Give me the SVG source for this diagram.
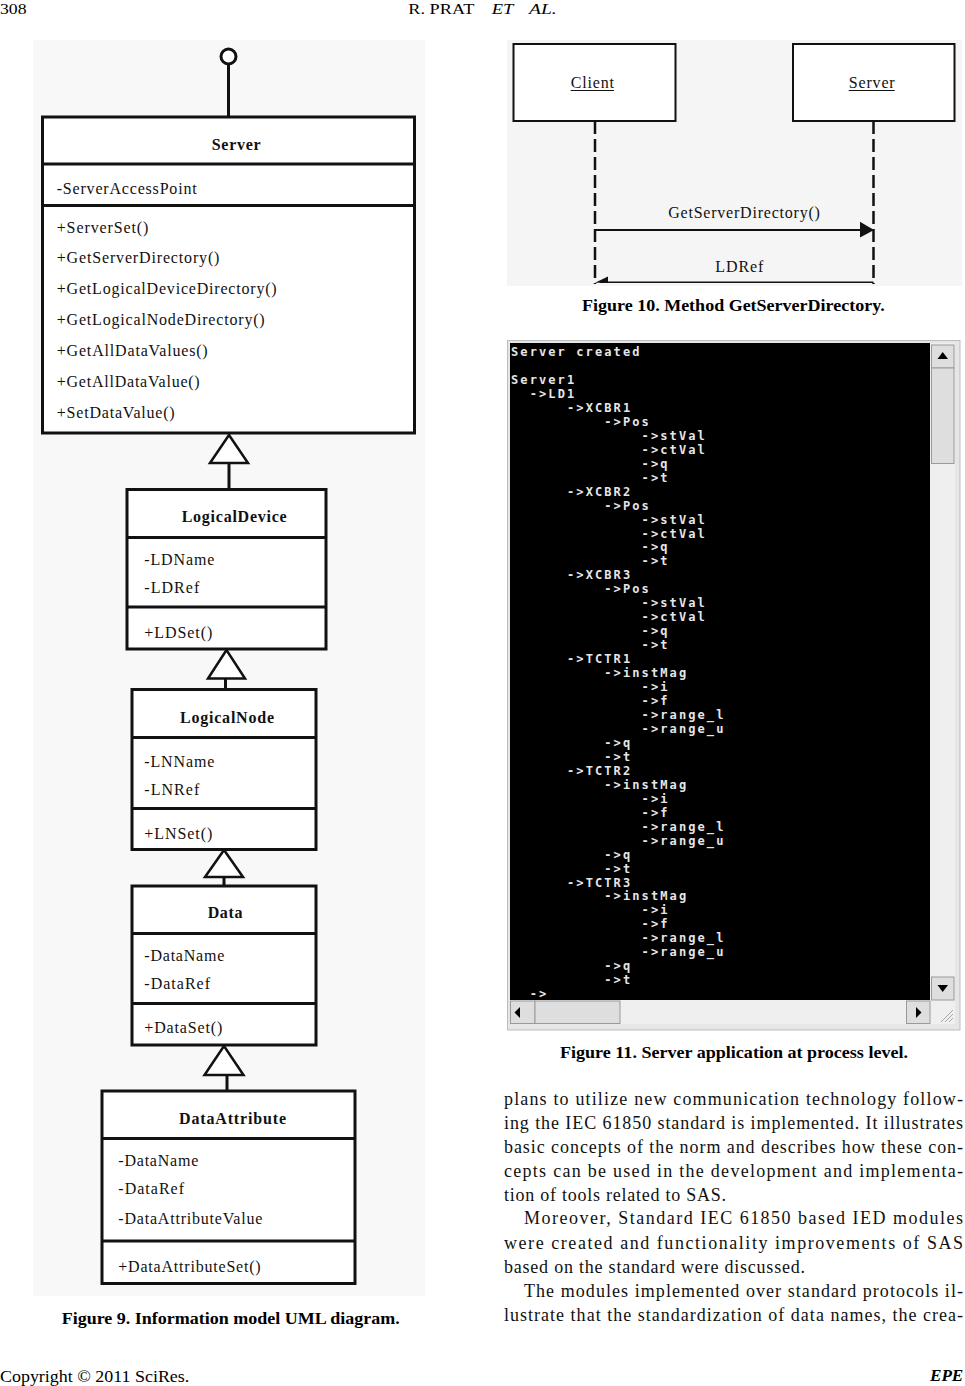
<svg xmlns="http://www.w3.org/2000/svg" width="965" height="1386" viewBox="0 0 965 1386">
<style>
.serif{font-family:"Liberation Serif","Times New Roman",serif;fill:#000}
.uml{font-family:"Liberation Serif","Times New Roman",serif;font-size:16px;fill:#111}
.umlt{font-family:"Liberation Serif","Times New Roman",serif;font-size:16px;font-weight:bold;fill:#111}
.box{fill:#fff;stroke:#111;stroke-width:3}
.sep{stroke:#111;stroke-width:3}
.gen{fill:#fff;stroke:#111;stroke-width:2.5;stroke-linejoin:miter}
.edge{stroke:#111;stroke-width:3;fill:none}
.cap{font-family:"Liberation Serif","Times New Roman",serif;font-size:17px;font-weight:bold;fill:#000}
.body{font-family:"Liberation Serif","Times New Roman",serif;font-size:18px;fill:#111}
.con{font-family:"DejaVu Sans Mono","Liberation Mono",monospace;font-size:12px;font-weight:bold;letter-spacing:2.1px;fill:#e6e6e6}
.sq{font-family:"Liberation Serif","Times New Roman",serif;font-size:16px;fill:#111}
.life{stroke:#111;stroke-width:2.5;stroke-dasharray:13 5}
.btn{fill:#dedede;stroke:#9a9a9a;stroke-width:1}
</style>
<rect width="965" height="1386" fill="#fff"/>

<!-- header -->
<text class="serif" x="0" y="13.5" font-size="15" textLength="26.5" lengthAdjust="spacingAndGlyphs">308</text>
<text class="serif" x="408.3" y="13.5" font-size="15" textLength="66" lengthAdjust="spacingAndGlyphs">R. PRAT</text>
<text class="serif" x="491.7" y="13.5" font-size="15" font-style="italic" textLength="21.6" lengthAdjust="spacingAndGlyphs">ET</text>
<text class="serif" x="529" y="13.5" font-size="15" font-style="italic" textLength="27.7" lengthAdjust="spacingAndGlyphs">AL.</text>

<!-- Figure 9 background -->
<rect x="33" y="40" width="392" height="1256" fill="#f8f8f8"/>

<!-- Figure 9 connectors -->
<g id="uml-connectors">
  <line class="edge" x1="228.5" y1="64" x2="228.5" y2="117"/>
  <circle cx="228.5" cy="56.5" r="7.5" fill="#fff" stroke="#111" stroke-width="3"/>
  <line class="edge" x1="229" y1="463" x2="229" y2="489"/>
  <polygon class="gen" points="229,435 210,463 248,463"/>
  <line class="edge" x1="225.5" y1="678.5" x2="225.5" y2="689.5"/>
  <polygon class="gen" points="226.5,650 208,678.5 245,678.5"/>
  <line class="edge" x1="224" y1="877" x2="224" y2="886"/>
  <polygon class="gen" points="224,850 205,877 243,877"/>
  <line class="edge" x1="227" y1="1075" x2="227" y2="1091"/>
  <polygon class="gen" points="224,1046 204.5,1075 243.5,1075"/>
</g>

<g id="server">
  <rect class="box" x="42.5" y="117" width="372" height="316"/>
  <line class="sep" x1="42.5" y1="164" x2="414.5" y2="164"/>
  <line class="sep" x1="42.5" y1="205.5" x2="414.5" y2="205.5" stroke-width="3.5"/>
  <text class="umlt" x="211.7" y="150" textLength="49" lengthAdjust="spacing">Server</text>
  <text class="uml" x="56.7" y="194" textLength="140" lengthAdjust="spacing">-ServerAccessPoint</text>
  <text class="uml" x="56.7" y="232.7" textLength="91.7" lengthAdjust="spacing">+ServerSet()</text>
  <text class="uml" x="56.7" y="262.5" textLength="162.7" lengthAdjust="spacing">+GetServerDirectory()</text>
  <text class="uml" x="56.7" y="293.5" textLength="220" lengthAdjust="spacing">+GetLogicalDeviceDirectory()</text>
  <text class="uml" x="56.7" y="324.5" textLength="208" lengthAdjust="spacing">+GetLogicalNodeDirectory()</text>
  <text class="uml" x="56.7" y="355.5" textLength="151" lengthAdjust="spacing">+GetAllDataValues()</text>
  <text class="uml" x="56.7" y="386.5" textLength="143" lengthAdjust="spacing">+GetAllDataValue()</text>
  <text class="uml" x="56.7" y="417.5" textLength="118" lengthAdjust="spacing">+SetDataValue()</text>
</g>

<g id="logicalDevice">
  <rect class="box" x="127" y="489.5" width="199" height="159.5"/>
  <line class="sep" x1="127" y1="537.5" x2="326" y2="537.5"/>
  <line class="sep" x1="127" y1="607" x2="326" y2="607"/>
  <text class="umlt" x="181.7" y="521.7" textLength="105" lengthAdjust="spacing">LogicalDevice</text>
  <text class="uml" x="144.3" y="565" textLength="70" lengthAdjust="spacing">-LDName</text>
  <text class="uml" x="144.3" y="592.7" textLength="55" lengthAdjust="spacing">-LDRef</text>
  <text class="uml" x="144.3" y="638.3" textLength="68" lengthAdjust="spacing">+LDSet()</text>
</g>

<g id="logicalNode">
  <rect class="box" x="132" y="689.5" width="184" height="160"/>
  <line class="sep" x1="132" y1="737.5" x2="316" y2="737.5"/>
  <line class="sep" x1="132" y1="808.5" x2="316" y2="808.5"/>
  <text class="umlt" x="180" y="722.7" textLength="94" lengthAdjust="spacing">LogicalNode</text>
  <text class="uml" x="144.3" y="766.7" textLength="70" lengthAdjust="spacing">-LNName</text>
  <text class="uml" x="144.3" y="795" textLength="55" lengthAdjust="spacing">-LNRef</text>
  <text class="uml" x="144.3" y="839" textLength="68" lengthAdjust="spacing">+LNSet()</text>
</g>

<g id="data">
  <rect class="box" x="132" y="886" width="184" height="159"/>
  <line class="sep" x1="132" y1="933.5" x2="316" y2="933.5"/>
  <line class="sep" x1="132" y1="1003.5" x2="316" y2="1003.5"/>
  <text class="umlt" x="207.7" y="918.3" textLength="34.7" lengthAdjust="spacing">Data</text>
  <text class="uml" x="144.3" y="960.7" textLength="80" lengthAdjust="spacing">-DataName</text>
  <text class="uml" x="144.3" y="989" textLength="65.7" lengthAdjust="spacing">-DataRef</text>
  <text class="uml" x="144.3" y="1033.3" textLength="78" lengthAdjust="spacing">+DataSet()</text>
</g>

<g id="dataAttribute">
  <rect class="box" x="102" y="1091" width="253" height="192.5"/>
  <line class="sep" x1="102" y1="1138.5" x2="355" y2="1138.5"/>
  <line class="sep" x1="102" y1="1241" x2="355" y2="1241"/>
  <text class="umlt" x="179" y="1124" textLength="107" lengthAdjust="spacing">DataAttribute</text>
  <text class="uml" x="118.3" y="1165.7" textLength="80" lengthAdjust="spacing">-DataName</text>
  <text class="uml" x="118.3" y="1194" textLength="65.7" lengthAdjust="spacing">-DataRef</text>
  <text class="uml" x="118.3" y="1224" textLength="144" lengthAdjust="spacing">-DataAttributeValue</text>
  <text class="uml" x="118.3" y="1272.3" textLength="142.4" lengthAdjust="spacing">+DataAttributeSet()</text>
</g>

<text class="cap" x="61.7" y="1324" textLength="338" lengthAdjust="spacingAndGlyphs">Figure 9. Information model UML diagram.</text>

<!-- Figure 10 -->
<rect x="507" y="40" width="455" height="246" fill="#f5f5f5"/>
<g id="client">
  <rect x="513.5" y="44" width="162" height="77" fill="#fff" stroke="#111" stroke-width="2"/>
  <text class="sq" x="570.7" y="87.7" textLength="43.3" lengthAdjust="spacing">Client</text>
  <line x1="570.7" y1="90.5" x2="614" y2="90.5" stroke="#111" stroke-width="1.2"/>
</g>
<g id="server-object">
  <rect x="793" y="44" width="161.5" height="77" fill="#fff" stroke="#111" stroke-width="2"/>
  <text class="sq" x="848.7" y="87.7" textLength="46" lengthAdjust="spacing">Server</text>
  <line x1="848.7" y1="90.5" x2="894.7" y2="90.5" stroke="#111" stroke-width="1.2"/>
</g>
<g id="sequence-connectors">
  <line class="life" x1="595" y1="121" x2="595" y2="284"/>
  <line class="life" x1="873.5" y1="121" x2="873.5" y2="284"/>
  <line x1="595" y1="230" x2="862" y2="230" stroke="#111" stroke-width="2.2"/>
  <polygon points="874,230 860,221.7 860,237.5" fill="#111"/>
  <line x1="873.5" y1="282.3" x2="600" y2="282.3" stroke="#111" stroke-width="1.5"/>
  <polygon points="595,282.8 608,276.5 608,282.8" fill="#111"/>
  <text class="sq" x="668.2" y="218.3" textLength="151.7" lengthAdjust="spacing">GetServerDirectory()</text>
  <text class="sq" x="715.3" y="272.3" textLength="48" lengthAdjust="spacing">LDRef</text>
</g>
<text class="cap" x="582" y="310.7" textLength="302.7" lengthAdjust="spacingAndGlyphs">Figure 10. Method GetServerDirectory.</text>

<!-- Figure 11 console -->
<rect x="507.5" y="340.5" width="452.5" height="689.5" fill="#e6e6e6" stroke="#bdbdbd" stroke-width="1"/>
<rect x="510" y="343" width="420" height="657" fill="#000"/>
<rect x="930" y="343" width="25" height="657" fill="#efefef"/>
<rect x="510" y="1000" width="445" height="24" fill="#efefef"/>
<rect class="btn" x="931.5" y="345" width="22.5" height="23"/>
<polygon points="942.7,352 937.5,359 948,359" fill="#000"/>
<rect class="btn" x="931.5" y="368" width="22.5" height="95.5"/>
<rect class="btn" x="931.5" y="977" width="22.5" height="23"/>
<polygon points="937.5,985 948,985 942.7,992" fill="#000"/>
<rect class="btn" x="510.5" y="1001" width="24.5" height="22.5"/>
<polygon points="520,1007 520,1018 514.5,1012.5" fill="#000"/>
<rect class="btn" x="535" y="1001" width="85" height="22.5"/>
<rect class="btn" x="906.5" y="1001" width="23.5" height="22.5"/>
<polygon points="916,1007 916,1018 921.5,1012.5" fill="#000"/>
<g stroke="#a8a8a8" stroke-width="1">
  <line x1="941" y1="1022" x2="953" y2="1010"/>
  <line x1="945" y1="1022" x2="953" y2="1014"/>
  <line x1="949" y1="1022" x2="953" y2="1018"/>
</g>
<g class="con">
  <text x="511" y="356">Server created</text>
  <text x="511" y="384">Server1</text>
  <text x="529.7" y="398">-&gt;LD1</text>
  <text x="567" y="411.8">-&gt;XCBR1</text>
  <text x="604.3" y="425.8">-&gt;Pos</text>
  <text x="641.6" y="439.8">-&gt;stVal</text>
  <text x="641.6" y="453.7">-&gt;ctVal</text>
  <text x="641.6" y="467.7">-&gt;q</text>
  <text x="641.6" y="481.6">-&gt;t</text>
  <text x="567" y="495.6">-&gt;XCBR2</text>
  <text x="604.3" y="509.6">-&gt;Pos</text>
  <text x="641.6" y="523.5">-&gt;stVal</text>
  <text x="641.6" y="537.5">-&gt;ctVal</text>
  <text x="641.6" y="551.4">-&gt;q</text>
  <text x="641.6" y="565.4">-&gt;t</text>
  <text x="567" y="579.4">-&gt;XCBR3</text>
  <text x="604.3" y="593.3">-&gt;Pos</text>
  <text x="641.6" y="607.3">-&gt;stVal</text>
  <text x="641.6" y="621.2">-&gt;ctVal</text>
  <text x="641.6" y="635.2">-&gt;q</text>
  <text x="641.6" y="649.2">-&gt;t</text>
  <text x="567" y="663.1">-&gt;TCTR1</text>
  <text x="604.3" y="677.1">-&gt;instMag</text>
  <text x="641.6" y="691">-&gt;i</text>
  <text x="641.6" y="705">-&gt;f</text>
  <text x="641.6" y="719">-&gt;range_l</text>
  <text x="641.6" y="732.9">-&gt;range_u</text>
  <text x="604.3" y="746.9">-&gt;q</text>
  <text x="604.3" y="760.8">-&gt;t</text>
  <text x="567" y="774.8">-&gt;TCTR2</text>
  <text x="604.3" y="788.8">-&gt;instMag</text>
  <text x="641.6" y="802.7">-&gt;i</text>
  <text x="641.6" y="816.7">-&gt;f</text>
  <text x="641.6" y="830.6">-&gt;range_l</text>
  <text x="641.6" y="844.6">-&gt;range_u</text>
  <text x="604.3" y="858.6">-&gt;q</text>
  <text x="604.3" y="872.5">-&gt;t</text>
  <text x="567" y="886.5">-&gt;TCTR3</text>
  <text x="604.3" y="900.4">-&gt;instMag</text>
  <text x="641.6" y="914.4">-&gt;i</text>
  <text x="641.6" y="928.4">-&gt;f</text>
  <text x="641.6" y="942.3">-&gt;range_l</text>
  <text x="641.6" y="956.3">-&gt;range_u</text>
  <text x="604.3" y="970.2">-&gt;q</text>
  <text x="604.3" y="984.2">-&gt;t</text>
  <text x="529.7" y="997.5">-&gt;</text>
</g>
<text class="cap" x="560" y="1058" textLength="348" lengthAdjust="spacingAndGlyphs">Figure 11. Server application at process level.</text>

<!-- body text -->
<g class="body">
  <text x="504" y="1105" textLength="459" lengthAdjust="spacing">plans to utilize new communication technology follow-</text>
  <text x="504" y="1129.3" textLength="459" lengthAdjust="spacing">ing the IEC 61850 standard is implemented. It illustrates</text>
  <text x="504" y="1153.3" textLength="459" lengthAdjust="spacing">basic concepts of the norm and describes how these con-</text>
  <text x="504" y="1176.7" textLength="459" lengthAdjust="spacing">cepts can be used in the development and implementa-</text>
  <text x="504" y="1200.7" textLength="222" lengthAdjust="spacing">tion of tools related to SAS.</text>
  <text x="524" y="1224.3" textLength="439" lengthAdjust="spacing">Moreover, Standard IEC 61850 based IED modules</text>
  <text x="504" y="1249" textLength="459" lengthAdjust="spacing">were created and functionality improvements of SAS</text>
  <text x="504" y="1272.7" textLength="301" lengthAdjust="spacing">based on the standard were discussed.</text>
  <text x="524" y="1296.7" textLength="439" lengthAdjust="spacing">The modules implemented over standard protocols il-</text>
  <text x="504" y="1320.7" textLength="459" lengthAdjust="spacing">lustrate that the standardization of data names, the crea-</text>
</g>

<!-- footer -->
<text class="serif" x="0" y="1381.7" font-size="16" textLength="189.3" lengthAdjust="spacingAndGlyphs">Copyright © 2011 SciRes.</text>
<text class="serif" x="930" y="1380.7" font-size="16" font-weight="bold" font-style="italic" textLength="33.3" lengthAdjust="spacingAndGlyphs">EPE</text>
</svg>
